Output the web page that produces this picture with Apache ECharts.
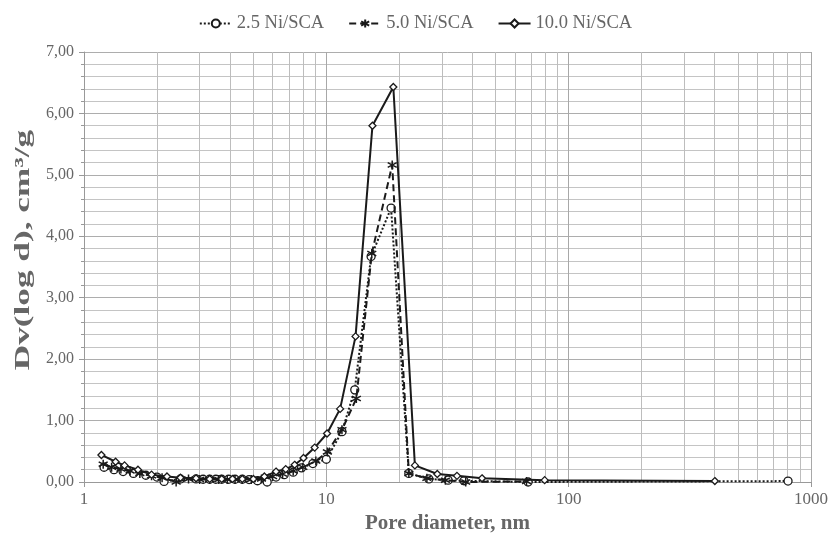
<!DOCTYPE html>
<html><head><meta charset="utf-8">
<script src="https://cdn.jsdelivr.net/npm/echarts@6/dist/echarts.min.js"></script>
<style>html,body{margin:0;padding:0;background:#fff}#c{width:831px;height:543px}</style>
</head><body><div id="c"></div>
<script>
const seriesNames = ['2.5 Ni/SCA', '5.0 Ni/SCA', '10.0 Ni/SCA'];
const d25 = [1.21,1.33,1.45,1.6,1.8,2.0,2.14,2.5,2.9,3.1,3.3,3.5,3.7,3.95,4.2,4.5,4.8,5.2,5.7,6.2,6.7,7.3,7.9,8.8,10.0,11.6,13.1,15.3,18.5,21.9,26.5,31.8,37,68,804];
const v25 = [0.24,0.20,0.17,0.14,0.11,0.08,0.01,0.05,0.05,0.045,0.045,0.045,0.045,0.045,0.045,0.045,0.04,0.02,0.0,0.08,0.12,0.16,0.23,0.30,0.37,0.82,1.50,3.67,4.46,0.14,0.05,0.03,0.02,0.0,0.015];
const d50 = [1.2,1.3,1.42,1.55,1.7,1.9,2.1,2.4,2.7,3.0,3.3,3.6,3.9,4.2,4.5,4.9,5.4,6.0,6.6,7.3,8.0,9.05,10.1,11.6,13.3,15.4,18.7,21.9,26,31,37.6,67];
const v50 = [0.29,0.24,0.21,0.18,0.14,0.10,0.07,0.0,0.05,0.04,0.04,0.04,0.04,0.04,0.04,0.04,0.05,0.09,0.13,0.18,0.24,0.34,0.49,0.85,1.36,3.72,5.16,0.14,0.06,0.03,0.0,0.01];
const d100 = [1.18,1.35,1.47,1.67,1.9,2.2,2.5,2.9,3.3,3.7,4.1,4.5,5.0,5.55,6.2,6.8,7.4,8.05,8.95,10.07,11.4,13.2,15.5,18.9,23.2,28.7,34.6,43.9,79.6,401];
const v100 = [0.44,0.33,0.27,0.20,0.12,0.09,0.07,0.06,0.05,0.05,0.05,0.05,0.05,0.09,0.17,0.21,0.28,0.39,0.56,0.79,1.19,2.37,5.80,6.43,0.27,0.13,0.10,0.06,0.03,0.015];
const minorGridX = [2,3,4,5,6,7,8,9,20,30,40,50,60,70,80,90,200,300,400,500,600,700,800,900];
const yTitle = 'Dv(log d), cm³/g';
const xTitle = 'Pore diameter, nm';

const zip = (xs, ys) => xs.map((x, i) => [x, ys[i]]);
const FONT = 'Liberation Serif';
const TXT = '#666666';
const LINE = '#1a1a1a';
const asterisk = 'path://M0,-5L0,5M-4.5,-2.6L4.5,2.6M-4.5,2.6L4.5,-2.6';

const chart = echarts.init(document.getElementById('c'), null, {renderer: 'canvas'});
chart.setOption({
  animation: false,
  backgroundColor: '#fff',
  grid: {left: 84, right: 17, top: 52, bottom: 61, containLabel: false},
  legend: {
    top: 9, left: 'center', itemGap: 24, itemWidth: 32, itemHeight: 10,
    textStyle: {fontFamily: FONT, fontSize: 18.5, color: TXT},
    data: seriesNames
  },
  graphic: [{
    type: 'text', x: 23, y: 250, rotation: Math.PI / 2, scaleX: 1.6, silent: true,
    style: {text: yTitle, font: 'bold 22px "Liberation Serif"', fill: TXT,
      textAlign: 'center', textVerticalAlign: 'middle'}
  }],
  xAxis: {
    type: 'log', logBase: 10, min: 1, max: 1000,
    name: xTitle, nameLocation: 'middle', nameGap: 31,
    nameTextStyle: {fontFamily: FONT, fontSize: 21, fontWeight: 'bold', color: TXT},
    axisLine: {show: true, lineStyle: {color: '#999', width: 1}},
    axisTick: {show: true, length: 5, lineStyle: {color: '#999'}},
    axisLabel: {fontFamily: FONT, fontSize: 17, color: TXT, margin: 9, formatter: v => String(v)},
    splitLine: {show: true, lineStyle: {color: '#a8a8a8', width: 1}}
  },
  yAxis: {
    type: 'value', min: 0, max: 7, interval: 1,
    axisLine: {show: true, lineStyle: {color: '#999', width: 1}},
    axisTick: {show: true, length: 5, lineStyle: {color: '#999'}},
    minorTick: {show: true, splitNumber: 5, length: 3, lineStyle: {color: '#999'}},
    axisLabel: {fontFamily: FONT, fontSize: 16, color: TXT, margin: 10,
      formatter: v => v.toFixed(2).replace('.', ',')},
    splitLine: {show: true, lineStyle: {color: '#adadad', width: 1}},
    minorSplitLine: {show: true, lineStyle: {color: '#c4c4c4', width: 1}}
  },
  series: [
    {
      name: seriesNames[0], type: 'line', data: zip(d25, v25), z: 3,
      symbol: 'circle', symbolSize: 8, showAllSymbol: true,
      lineStyle: {color: LINE, width: 2, type: 'dotted'},
      itemStyle: {color: '#fff', borderColor: LINE, borderWidth: 1.3},
      markLine: {
        silent: true, symbol: 'none', label: {show: false}, z: 1,
        lineStyle: {color: '#bdbdbd', width: 1, type: 'solid'},
        data: minorGridX.map(x => ({xAxis: x}))
      }
    },
    {
      name: seriesNames[1], type: 'line', data: zip(d50, v50), z: 4,
      symbol: asterisk, symbolSize: 9, showAllSymbol: true,
      lineStyle: {color: LINE, width: 2, type: [7, 4]},
      itemStyle: {color: LINE, borderColor: LINE, borderWidth: 1.5}
    },
    {
      name: seriesNames[2], type: 'line', data: zip(d100, v100), z: 5,
      symbol: 'diamond', symbolSize: 7, showAllSymbol: true,
      lineStyle: {color: LINE, width: 2, type: 'solid'},
      itemStyle: {color: '#fff', borderColor: LINE, borderWidth: 1.3}
    }
  ]
});
</script></body></html>
